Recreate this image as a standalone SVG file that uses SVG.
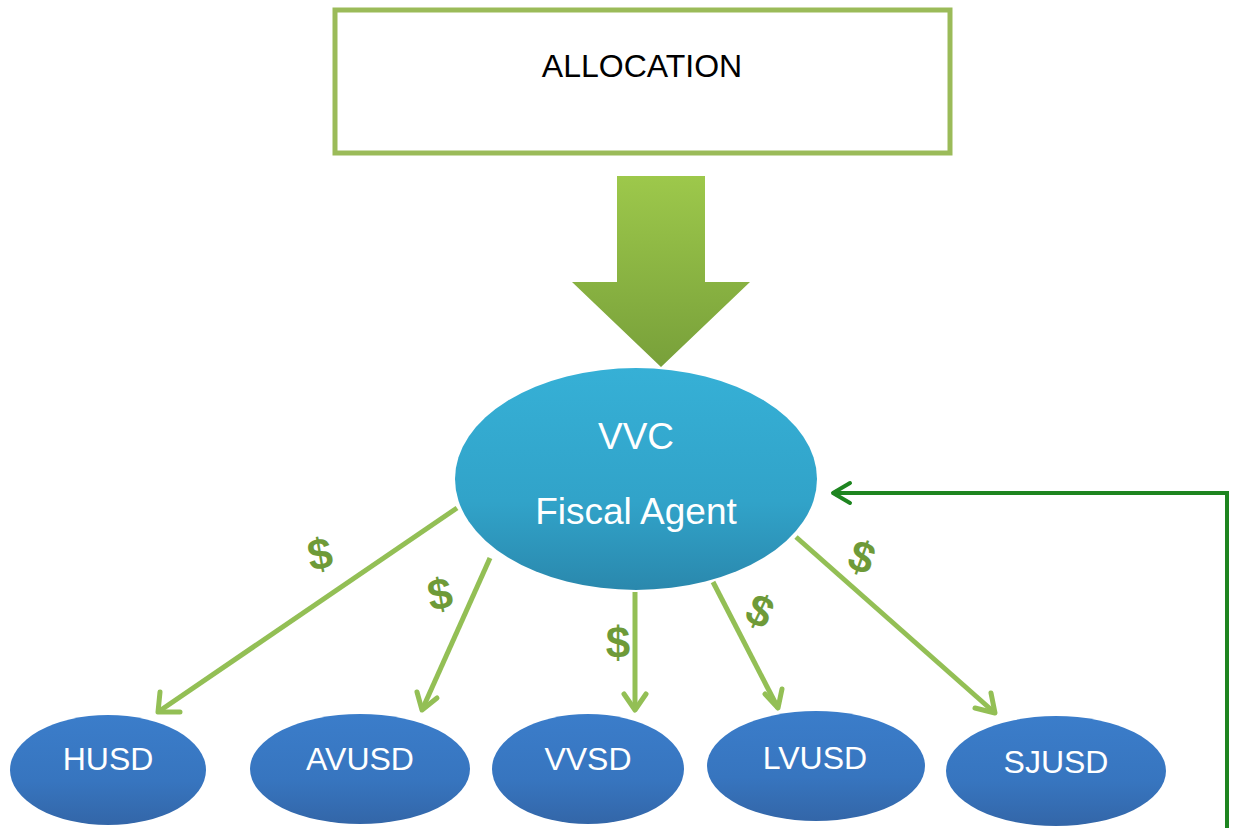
<svg xmlns="http://www.w3.org/2000/svg" width="1241" height="828" viewBox="0 0 1241 828">
<style>
.lbl{font-family:"Liberation Sans",Arial,sans-serif;fill:#fff;text-anchor:middle}
.dol{font-family:"Liberation Sans",Arial,sans-serif;font-weight:bold;fill:#6E9A38;font-size:44px;text-anchor:middle}
.flow{stroke:#93BF55;stroke-width:5;fill:none}
</style>
<defs>
<linearGradient id="ga" x1="0" y1="0" x2="0" y2="1"><stop offset="0" stop-color="#9DC84B"/><stop offset="1" stop-color="#78A03A"/></linearGradient>
<linearGradient id="gv" x1="0" y1="0" x2="0" y2="1"><stop offset="0" stop-color="#36B0D6"/><stop offset="0.6" stop-color="#31A3C9"/><stop offset="1" stop-color="#2A88AD"/></linearGradient>
<linearGradient id="gb" x1="0" y1="0" x2="0" y2="1"><stop offset="0" stop-color="#3B7DCA"/><stop offset="0.6" stop-color="#3775BF"/><stop offset="1" stop-color="#3366A8"/></linearGradient>
</defs>
<rect width="1241" height="828" fill="#fff"/>
<g id="allocation">
<rect x="335" y="10" width="615" height="143" fill="#fff" stroke="#9BBB59" stroke-width="5"/>
<text x="642" y="77" font-family="Liberation Sans,Arial,sans-serif" font-size="32" fill="#000" text-anchor="middle">ALLOCATION</text>
</g>
<g id="big-arrow">
<path d="M617,176 H705 V282 H750 L661,367 L572,282 H617 Z" fill="url(#ga)"/>
</g>
<g id="connectors">
<path class="flow" d="M457,508 L158,712"/>
<path class="flow" d="M490,558 L422,710"/>
<path class="flow" d="M635,592 L635,710"/>
<path class="flow" d="M713,582 L778,708"/>
<path class="flow" d="M796,537 L995,713"/>
<g fill="none" stroke="#93BF55" stroke-width="5" stroke-linecap="round" stroke-linejoin="round">
<path d="M160,692 L158,712 L180,712"/>
<path d="M417,692 L422,710 L437,698"/>
<path d="M624,694 L635,710 L646,694"/>
<path d="M765,694 L778,708 L782,689"/>
<path d="M975,708 L995,713 L991,693"/>
</g>
<path d="M1227,828 V493 H836" stroke="#1E8520" stroke-width="4" fill="none"/>
<path d="M850,483 L833,493 L850,503" stroke="#1E8520" stroke-width="4" fill="none" stroke-linecap="round" stroke-linejoin="round"/>
<text class="dol" x="320" y="569" transform="rotate(-10 320 554)">$</text>
<text class="dol" x="440" y="609" transform="rotate(-10 440 594)">$</text>
<text class="dol" x="618" y="658">$</text>
<text class="dol" x="760" y="626" transform="rotate(25 760 611)">$</text>
<text class="dol" x="862" y="572" transform="rotate(20 862 557)">$</text>
</g>
<g id="vvc">
<ellipse cx="636" cy="479" rx="181" ry="111" fill="url(#gv)"/>
<text class="lbl" x="636" y="449" font-size="37">VVC</text>
<text class="lbl" x="636" y="524" font-size="37">Fiscal Agent</text>
</g>
<g id="husd">
<ellipse cx="108" cy="770" rx="98" ry="55" fill="url(#gb)"/>
<text class="lbl" x="108" y="770" font-size="32">HUSD</text>
</g>
<g id="avusd">
<ellipse cx="360" cy="769" rx="110" ry="55" fill="url(#gb)"/>
<text class="lbl" x="360" y="770" font-size="32">AVUSD</text>
</g>
<g id="vvsd">
<ellipse cx="588" cy="769" rx="96" ry="55" fill="url(#gb)"/>
<text class="lbl" x="588" y="770" font-size="32">VVSD</text>
</g>
<g id="lvusd">
<ellipse cx="816" cy="766" rx="109" ry="55" fill="url(#gb)"/>
<text class="lbl" x="815" y="769" font-size="32">LVUSD</text>
</g>
<g id="sjusd">
<ellipse cx="1056" cy="771" rx="110" ry="55" fill="url(#gb)"/>
<text class="lbl" x="1056" y="773" font-size="32">SJUSD</text>
</g>
</svg>
